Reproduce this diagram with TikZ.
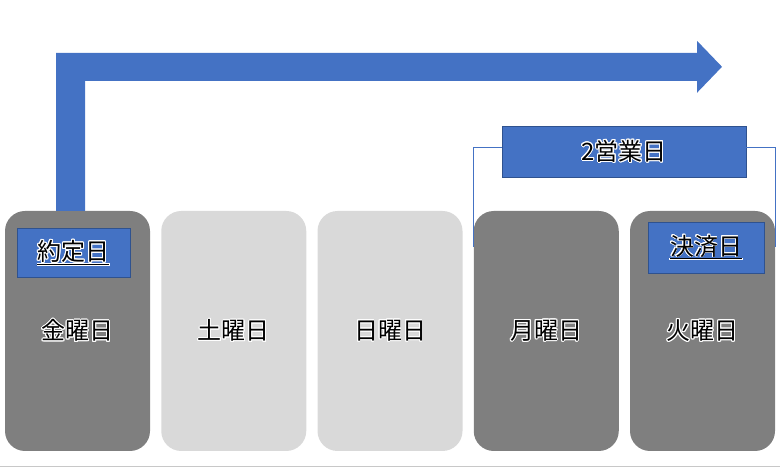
\documentclass[tikz,border=0pt]{standalone}
\usepackage{fontspec}
\setmainfont{Noto Sans CJK JP}
\usepackage{contour}
\contourlength{0.9pt}
\definecolor{blueshape}{RGB}{68,114,196}
\definecolor{blueedge}{RGB}{47,82,143}
\definecolor{workday}{RGB}{127,127,127}
\definecolor{holiday}{RGB}{217,217,217}
\definecolor{rulegray}{RGB}{200,200,200}
\newcommand{\glowtext}[1]{\contour{white}{#1}}
\newcommand{\daybox}[4]{\node[daycard, fill=#3] (#1) at (#2,138) {\glowtext{#4}};}
\newcommand{\drawbracket}{\draw[line width=1pt, blueshape]}
\tikzset{
  daycard/.style={rectangle, rounded corners=20pt, minimum width=145pt,
    minimum height=240pt, inner sep=0pt, draw=none, font=\fontsize{24}{28}\selectfont},
  tagbox/.style={rectangle, fill=blueshape, draw=blueedge, line width=0.8pt,
    minimum width=113pt, minimum height=49pt, inner sep=0pt, font=\fontsize{24}{28}\selectfont},
}

\begin{document}
\begin{tikzpicture}[x=1pt,y=1pt]
\useasboundingbox (0,0) rectangle (780,469);
\daybox{fri}{77.5}{workday}{金曜日}
    \daybox{sat}{233.75}{holiday}{土曜日}
    \daybox{sun}{390}{holiday}{日曜日}
    \daybox{mon}{546.25}{workday}{月曜日}
    \daybox{tue}{702.5}{workday}{火曜日}
\draw[fill=blueshape, draw=none] ([xshift=-21.5pt]fri.north)--++(0,158)--++(641,0)--++(0,12)--++(25,-26)--++(-25,-26)--++(0,12)--++(-612,0)--++(0,-130)--cycle;
\node[tagbox] (trade) at (73.5,216) {\glowtext{\underline{約定日}}};
    \node[tagbox, minimum width=116pt, minimum height=51pt] (settle) at (706,221.5) {\glowtext{\underline{決済日}}};
    \node[tagbox, minimum width=244pt, minimum height=51pt] (span) at (624,317.5) {\glowtext{2営業日}};
\drawbracket ([yshift=4pt]span.west) -| ([yshift=-36pt]mon.north west);
    \drawbracket ([yshift=4pt]span.east) -| ([yshift=-36pt]tue.north east);
\draw[rulegray, line width=1pt] (0,2)--(780,2);
\end{tikzpicture}
\end{document}
